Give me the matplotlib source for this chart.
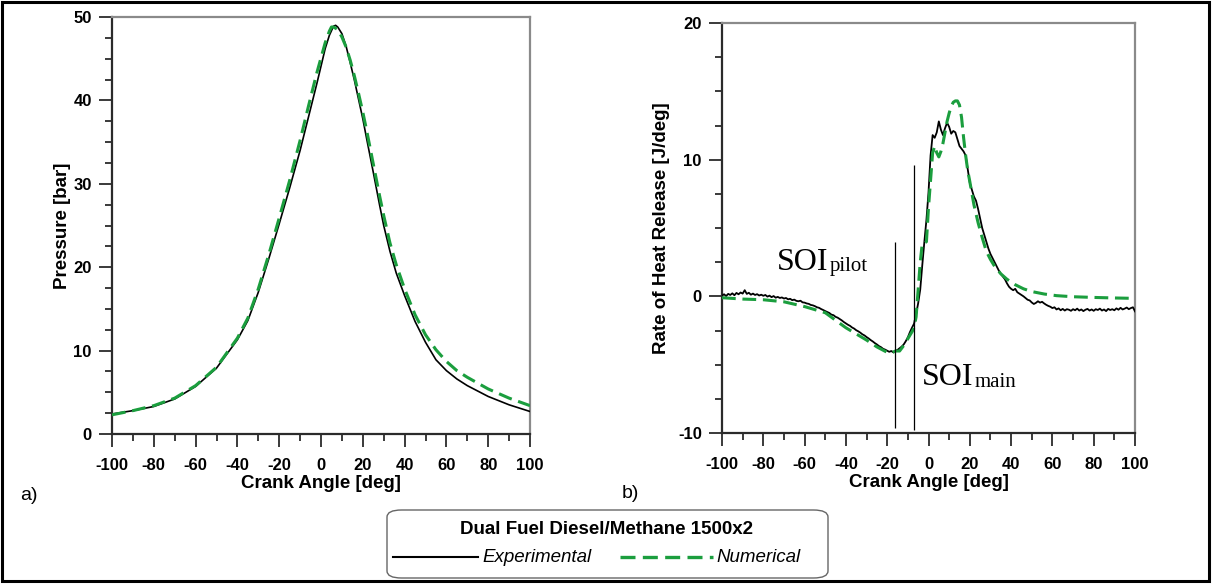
import matplotlib
matplotlib.use("Agg")
import matplotlib.pyplot as plt
from matplotlib.ticker import MultipleLocator
from matplotlib.patches import FancyBboxPatch, Rectangle
from matplotlib.lines import Line2D

# ---- data -----------------------------------------------------------------
# In-cylinder pressure [bar] vs crank angle [deg]
p_exp_angle = [-100, -90, -80, -70, -60, -50, -40, -35, -30, -25, -20, -15, -10, -6, -2,
               2, 4, 6, 7, 8, 10, 12, 14, 16, 18, 20, 22, 25, 28, 30, 33, 36, 40, 45, 50,
               55, 60, 65, 70, 80, 90, 100]
p_exp = [2.4, 2.8, 3.3, 4.2, 5.7, 7.9, 11.3, 13.6, 17.0, 21.0, 25.2, 29.5, 34.0, 38.0, 42.0,
         46.2, 47.8, 48.9, 49.0, 48.8, 48.0, 46.5, 44.5, 42.4, 40.1, 37.8, 35.2, 31.4, 27.5,
         25.0, 21.9, 19.3, 16.6, 13.5, 11.0, 8.9, 7.6, 6.6, 5.8, 4.5, 3.5, 2.7]

p_num_angle = [-100, -90, -80, -70, -60, -50, -40, -35, -30, -25, -20, -15, -10, -6, -2,
               2, 4, 5, 6, 8, 10, 12, 14, 16, 18, 20, 22, 25, 28, 30, 33, 36, 40, 45, 50,
               55, 60, 65, 70, 80, 90, 100]
p_num = [2.3, 2.8, 3.4, 4.3, 5.8, 8.0, 11.5, 13.9, 17.4, 21.5, 25.9, 30.4, 35.2, 39.3, 43.3,
         46.9, 48.3, 48.8, 48.8, 48.5, 47.6, 46.4, 44.8, 42.9, 40.8, 38.6, 36.2, 32.4, 28.6,
         26.2, 22.9, 20.3, 17.4, 14.3, 11.9, 10.1, 8.7, 7.6, 6.8, 5.4, 4.3, 3.4]

# Rate of heat release [J/deg], measured at 1 deg resolution
hrr_exp_angle = list(range(-100, 101))
hrr_exp = [
    0.05, 0.15, 0.02, 0.18, 0.10, 0.22, 0.08, 0.25, 0.15, 0.28,          # -100..-91
    0.20, 0.45, 0.18, 0.26, 0.12, 0.20, 0.10, 0.16, 0.06, 0.12,          # -90..-81
    0.04, 0.10, -0.02, 0.05, -0.06, 0.02, -0.10, -0.04, -0.12, -0.08,    # -80..-71
    -0.16, -0.12, -0.22, -0.18, -0.28, -0.24, -0.33, -0.36, -0.32, -0.44,  # -70..-61
    -0.46, -0.52, -0.55, -0.63, -0.66, -0.72, -0.80, -0.84, -0.93, -1.00,  # -60..-51
    -1.08, -1.15, -1.22, -1.34, -1.38, -1.50, -1.56, -1.66, -1.76, -1.88,  # -50..-41
    -1.98, -2.08, -2.16, -2.28, -2.36, -2.48, -2.56, -2.66, -2.78, -2.86,  # -40..-31
    -2.98, -3.08, -3.20, -3.30, -3.42, -3.52, -3.64, -3.72, -3.84, -3.90,  # -30..-21
    -3.98, -4.06, -4.00, -4.10, -3.98, -3.92, -3.80, -3.68, -3.52, -3.28,  # -20..-11
    -3.00, -2.62, -2.30, -2.00, -1.30, -0.50, 0.50, 2.30, 4.00, 5.60,      # -10..-1
    7.60, 10.30, 11.80, 11.60, 12.00, 12.80, 12.20, 11.80, 12.30, 12.70,   # 0..9
    12.40, 11.90, 12.10, 12.00, 11.50, 11.00, 10.80, 10.60, 10.30, 9.30,   # 10..19
    8.30, 7.80, 7.30, 7.00, 6.40, 5.70, 5.00, 4.50, 4.00, 3.50,            # 20..29
    3.10, 2.80, 2.50, 2.20, 1.90, 1.65, 1.45, 1.25, 0.95, 0.70,            # 30..39
    0.55, 0.45, 0.55, 0.30, 0.20, 0.10, 0.00, -0.12, -0.25, -0.30,         # 40..49
    -0.45, -0.56, -0.48, -0.36, -0.46, -0.40, -0.52, -0.62, -0.70, -0.76,  # 50..59
    -0.86, -0.80, -0.96, -0.88, -1.02, -0.92, -1.04, -0.94, -0.98, -1.06,  # 60..69
    -0.94, -1.02, -0.90, -1.04, -0.96, -1.08, -0.98, -0.92, -1.04, -0.96,  # 70..79
    -1.06, -0.94, -1.00, -0.90, -1.04, -0.96, -1.08, -0.92, -1.00, -0.94,  # 80..89
    -1.02, -0.88, -0.98, -0.84, -0.96, -0.90, -0.82, -0.94, -0.86, -0.80,  # 90..99
    -1.10,                                                                 # 100
]

hrr_num_angle = [-100, -90, -80, -70, -60, -50, -40, -30, -25, -20, -18, -16, -14, -12, -10,
                 -8, -7, -6, -5, -4, -3, -2, -1, 0, 1, 2, 3, 4, 5, 6, 7, 8, 9, 10, 11, 12,
                 13, 14, 15, 16, 17, 18, 19, 20, 22, 24, 26, 28, 30, 32, 35, 38, 42, 46, 50,
                 56, 62, 70, 80, 90, 100]
hrr_num = [-0.1, -0.2, -0.25, -0.4, -0.75, -1.2, -2.3, -3.2, -3.7, -4.1, -4.15, -4.0, -4.0,
           -3.6, -3.1, -2.6, -2.3, -1.5, 0.5, 2.5, 3.9, 3.9, 4.0, 6.5, 8.5, 10.5, 11.0, 10.5,
           10.2, 10.6, 11.2, 12.0, 12.8, 13.4, 13.9, 14.2, 14.3, 14.3, 14.0, 13.1, 11.6, 10.3,
           9.2, 8.4, 6.7, 5.4, 4.3, 3.3, 2.7, 2.2, 1.65, 1.25, 0.85, 0.55, 0.35, 0.17, 0.05,
           -0.03, -0.08, -0.12, -0.15]

# Start of injection markers [deg] and their vertical extent [J/deg]
soi_pilot = -16.0
soi_pilot_span = (-9.6, 4.0)
soi_main = -7.0
soi_main_span = (-9.8, 9.6)

x_ticks = [-100, -80, -60, -40, -20, 0, 20, 40, 60, 80, 100]
p_ticks = [0, 10, 20, 30, 40, 50]
hrr_ticks = [-10, 0, 10, 20]

# ---- style ----------------------------------------------------------------
SANS = "Liberation Sans"
SERIF = "Liberation Serif"
GREEN = "#1b9e3e"
DARK = "#2b2b2b"

plt.rcParams["font.family"] = SANS
plt.rcParams["axes.unicode_minus"] = False

fig = plt.figure(figsize=(12.12, 5.85), dpi=100)
W, H = 1212, 585


def px_axes(x0, x1, y0, y1):
    return fig.add_axes([x0 / W, 1 - y1 / H, (x1 - x0) / W, (y1 - y0) / H])


def style_axes(ax, ylabel, yticks, ymin, ymax, labelpad):
    ax.set_xlim(-100, 100)
    ax.set_ylim(ymin, ymax)
    ax.set_xticks(x_ticks, labels=[str(v) for v in x_ticks], fontweight="bold", fontsize=12)
    ax.set_yticks(yticks, labels=[str(v) for v in yticks], fontweight="bold", fontsize=12)
    ax.xaxis.set_minor_locator(MultipleLocator(10))
    ax.yaxis.set_minor_locator(MultipleLocator(2.5))
    ax.tick_params(which="major", direction="out", length=9.5, width=1.3, color=DARK, pad=5)
    ax.tick_params(which="minor", direction="out", length=5, width=1.3, color=DARK)
    ax.tick_params(axis="x", which="major", pad=8)
    for side in ("left", "bottom"):
        ax.spines[side].set_color(DARK)
        ax.spines[side].set_linewidth(1.6)
    for side in ("top", "right"):
        ax.spines[side].set_color("#8a8a8a")
        ax.spines[side].set_linewidth(1.6)
    ax.set_xlabel("Crank Angle [deg]", fontsize=13.5, fontweight="bold", labelpad=1)
    ax.set_ylabel(ylabel, fontsize=13.5, fontweight="bold", labelpad=labelpad)


# ---- a) pressure ----------------------------------------------------------
ax1 = px_axes(112, 530, 17, 434)
ax1.plot(p_exp_angle, p_exp, color="black", lw=1.2, zorder=3)
ax1.plot(p_num_angle, p_num, color=GREEN, lw=2.2, dashes=(4.5, 2.2), zorder=4)
style_axes(ax1, "Pressure [bar]", p_ticks, 0, 50, 2)

# ---- b) rate of heat release ---------------------------------------------
ax2 = px_axes(722, 1135, 23, 433)
ax2.plot(hrr_exp_angle, hrr_exp, color="black", lw=1.3, zorder=3)
ax2.plot(hrr_num_angle, hrr_num, color=GREEN, lw=2.2, dashes=(4.5, 2.2), zorder=4)
ax2.vlines([soi_pilot], *soi_pilot_span, color="black", lw=0.9, zorder=5)
ax2.vlines([soi_main], *soi_main_span, color="black", lw=0.9, zorder=5)
style_axes(ax2, "Rate of Heat Release [J/deg]", hrr_ticks, -10, 20, 6)

# SOI annotations: large serif label with a smaller subscript word
fig.canvas.draw()
renderer = fig.canvas.get_renderer()


def soi_label(x, y, sub):
    t = ax2.text(x, y, "SOI", family=SERIF, fontsize=23, va="baseline", ha="left")
    bb = t.get_window_extent(renderer)
    xs, ys = ax2.transData.inverted().transform((bb.x1 + 1, 0))[0], y - 0.12
    ax2.text(xs, ys, sub, family=SERIF, fontsize=15, va="baseline", ha="left")


soi_label(-73.5, 1.95, "pilot")
soi_label(-3.3, -6.5, "main")

# panel letters
fig.text(20 / W, 1 - 495 / H, "a)", fontsize=14, va="center", ha="left")
fig.text(622 / W, 1 - 493 / H, "b)", fontsize=14, va="center", ha="left")

# ---- shared legend box ----------------------------------------------------
box = FancyBboxPatch((387 / W, 1 - 578 / H), (828 - 387) / W, (578 - 510) / H,
                     boxstyle="round,pad=0,rounding_size=0.012",
                     transform=fig.transFigure, facecolor="white",
                     edgecolor="#666666", lw=1.0)
fig.patches.append(box)
fig.text(606 / W, 1 - 530 / H, "Dual Fuel Diesel/Methane 1500x2", fontsize=13.5,
         fontweight="bold", ha="center", va="center")
ly = 1 - 557 / H
fig.lines.append(Line2D([393 / W, 478 / W], [ly, ly], color="black", lw=1.5,
                        transform=fig.transFigure))
fig.text(482 / W, ly, "Experimental", fontsize=13.5, style="italic", ha="left", va="center")
fig.lines.append(Line2D([620 / W, 713 / W], [ly, ly], color=GREEN, lw=2.4,
                        dashes=(4.5, 2.2), transform=fig.transFigure))
fig.text(716 / W, ly, "Numerical", fontsize=13.5, style="italic", ha="left", va="center")

# outer frame
fig.patches.append(Rectangle((1.5 / W, 1 - 580.5 / H), (1209 - 1.5) / W, (580.5 - 1.5) / H,
                             transform=fig.transFigure, fill=False,
                             edgecolor="black", lw=2.2))

fig.savefig("out.png", dpi=100)
